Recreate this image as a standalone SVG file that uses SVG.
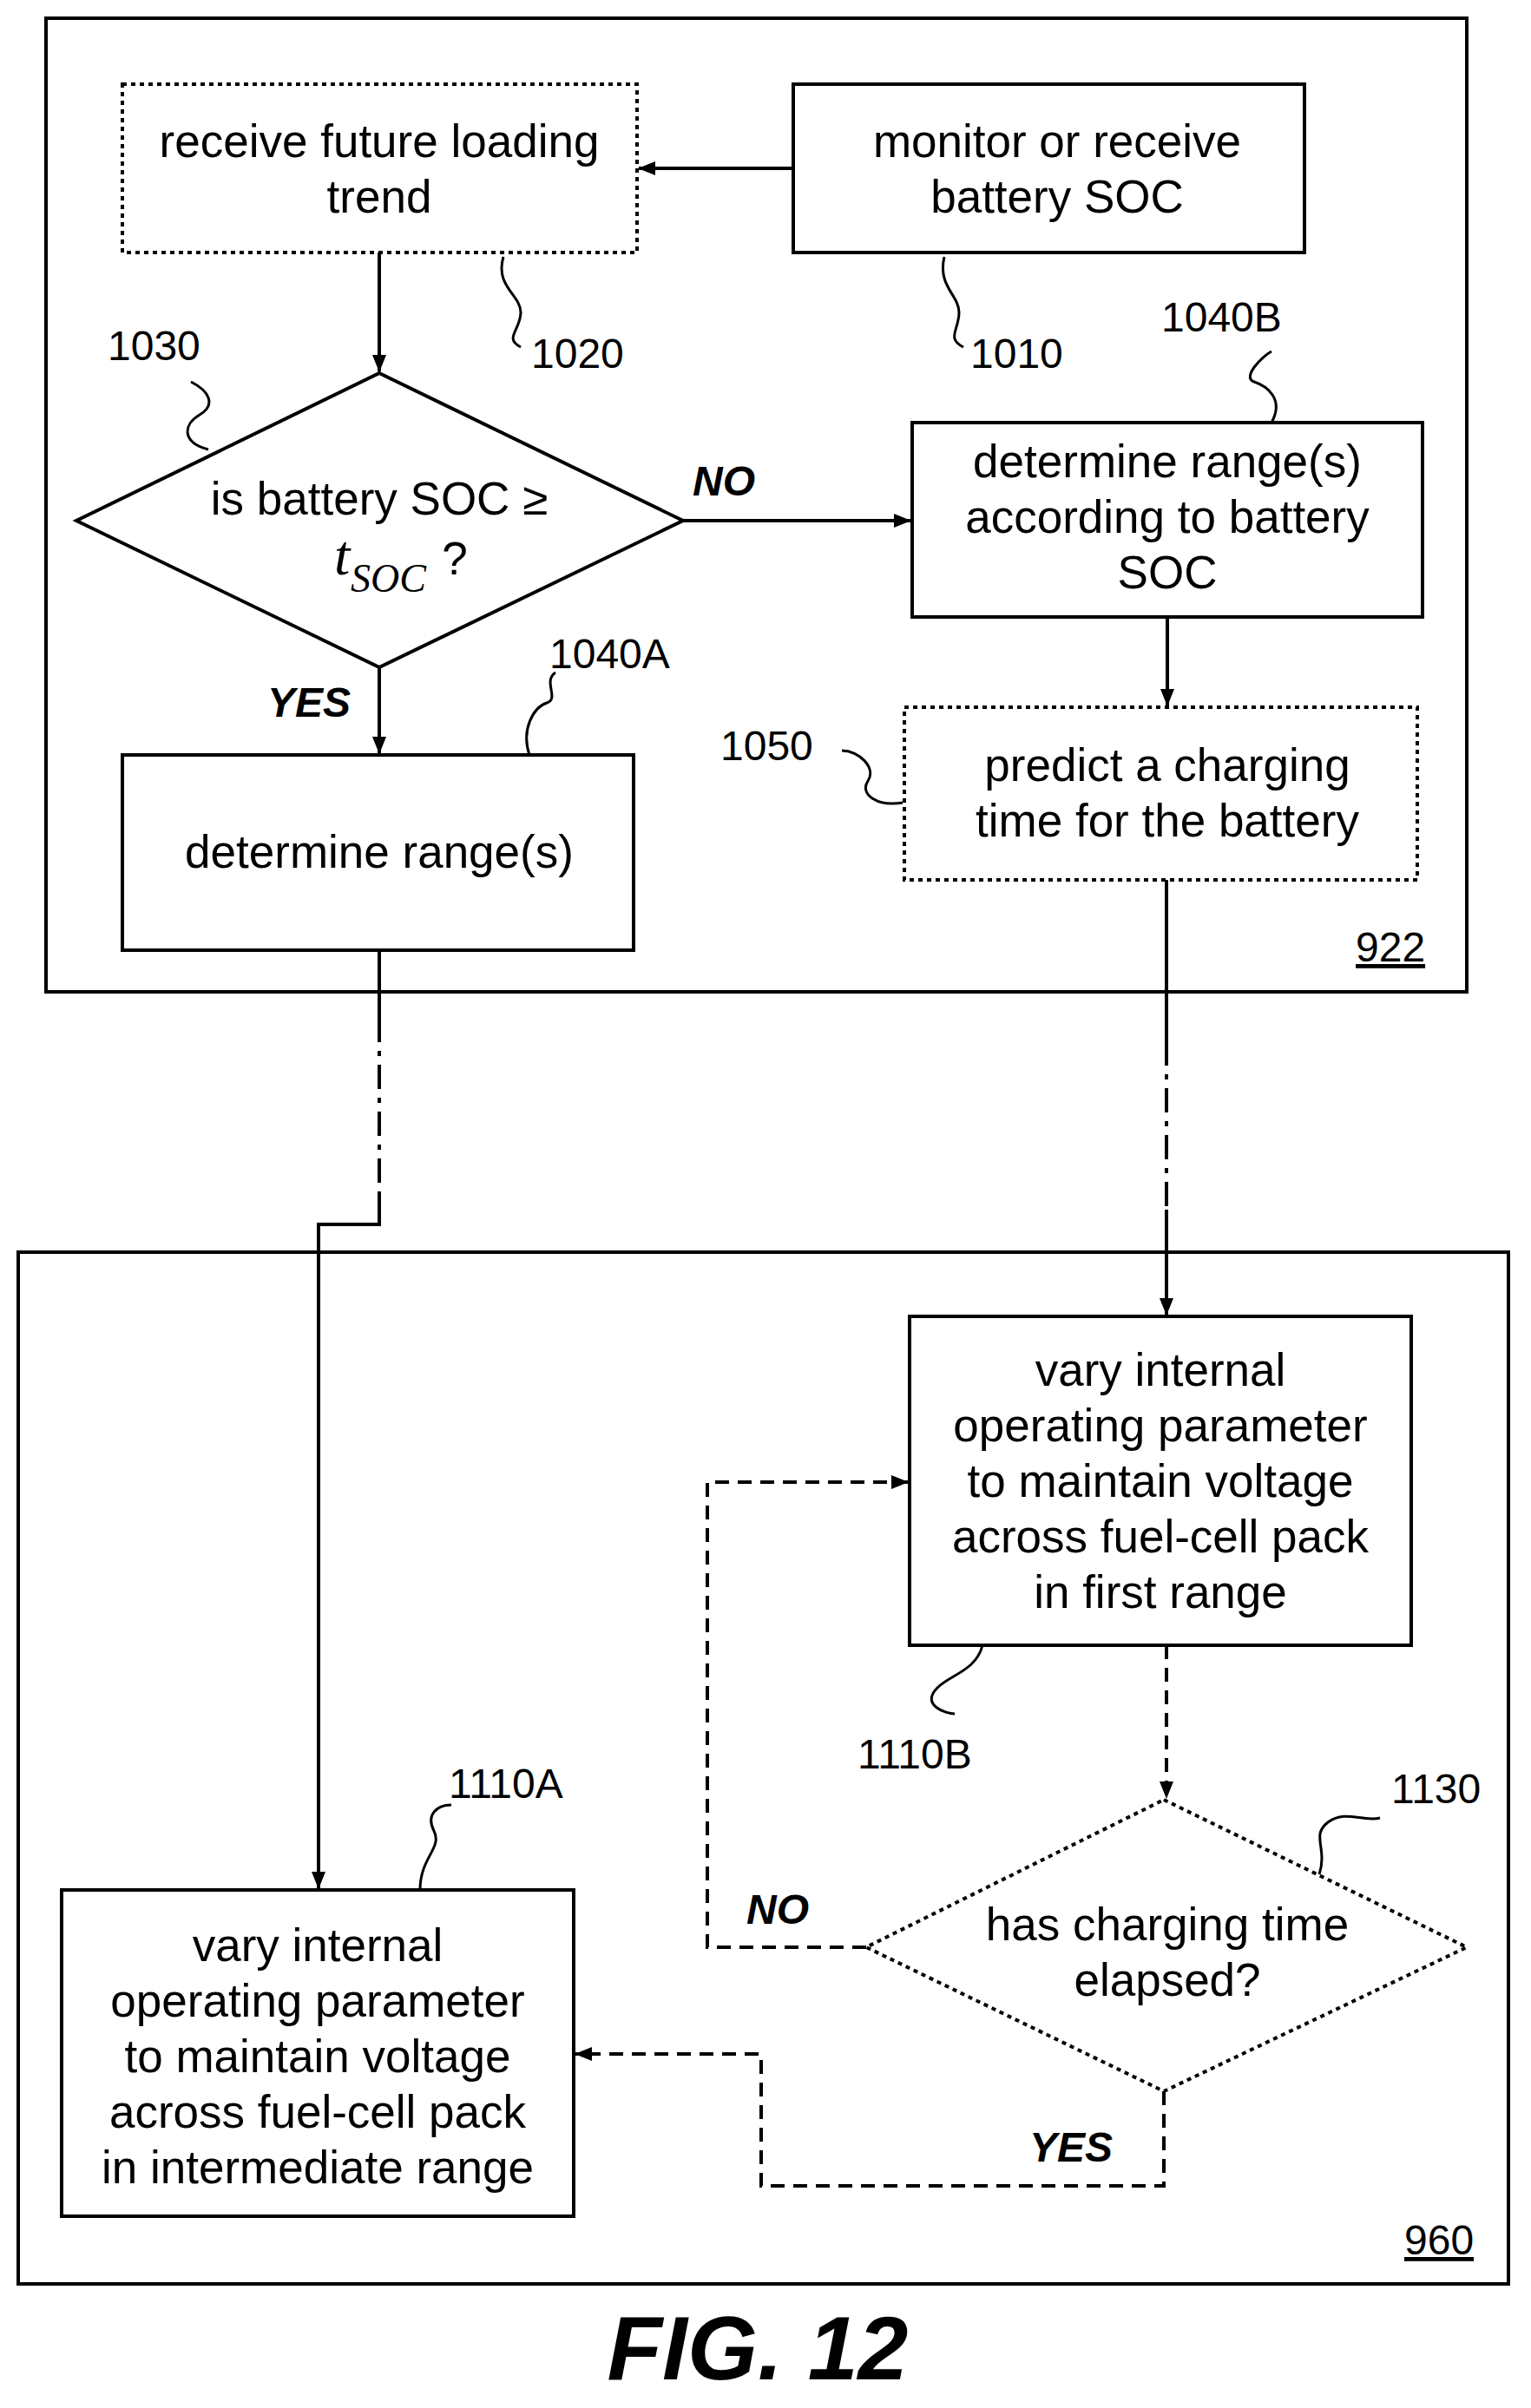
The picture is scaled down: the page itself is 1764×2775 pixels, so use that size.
<svg xmlns="http://www.w3.org/2000/svg" width="1764" height="2775" viewBox="0 0 1764 2775">
<defs>
<style>
.f{fill:#fff;stroke:#000;stroke-width:4}
.d{fill:#fff;stroke:#000;stroke-width:4;stroke-dasharray:5 5}
.t{font-family:"Liberation Sans",Arial,sans-serif;font-size:53px;text-anchor:middle;fill:#000}
.r{font-family:"Liberation Sans",Arial,sans-serif;font-size:48px;fill:#000}
.b{font-family:"Liberation Sans",Arial,sans-serif;font-size:48px;font-weight:bold;font-style:italic;fill:#000}
.c{fill:none;stroke:#000;stroke-width:4}
.dash{fill:none;stroke:#000;stroke-width:4;stroke-dasharray:16 10}
.dd{fill:none;stroke:#000;stroke-width:4;stroke-dasharray:28 10 6 10}
.s{fill:none;stroke:#000;stroke-width:3}
</style>
<marker id="a" markerWidth="20" markerHeight="16" refX="19" refY="8" orient="auto" markerUnits="userSpaceOnUse" viewBox="0 0 20 16"><path d="M0,0L20,8L0,16z"/></marker>
</defs>
<rect x="53" y="21" width="1637" height="1122" fill="none" stroke="#000" stroke-width="4"/>
<rect x="21" y="1443" width="1717" height="1189" fill="none" stroke="#000" stroke-width="4"/>
<text class="r" x="1562" y="1108" text-decoration="underline">922</text>
<text class="r" x="1618" y="2598" text-decoration="underline">960</text>
<g id="connectors">
<path class="c" d="M914,194H736" marker-end="url(#a)"/>
<path class="c" d="M437,291V428" marker-end="url(#a)"/>
<path class="c" d="M787,600H1049" marker-end="url(#a)"/>
<path class="c" d="M437,769V868" marker-end="url(#a)"/>
<path class="c" d="M1345,711V813" marker-end="url(#a)"/>
<path class="c" d="M437,1095V1173"/><path class="dd" d="M437,1173V1376"/><path class="c" d="M437,1376V1411H367V2176" marker-end="url(#a)"/>
<path class="c" d="M1344,1014V1200"/><path class="dd" d="M1344,1200V1394"/><path class="c" d="M1344,1394V1515" marker-end="url(#a)"/>
<path class="dash" d="M1344,1896V2072" marker-end="url(#a)"/>
<path class="dash" d="M998,2244H815V1708H1046" marker-end="url(#a)"/>
<path class="dash" d="M1341,2410V2519H877V2367H663" marker-end="url(#a)"/>
<text class="b" x="798" y="571">NO</text>
<text class="b" x="308" y="826">YES</text>
<text class="b" x="860" y="2217">NO</text>
<text class="b" x="1186" y="2491">YES</text>
</g>
<g id="n1020"><rect class="d" x="141" y="97" width="593" height="194"/><text class="t" x="437" y="181">receive future loading</text><text class="t" x="437" y="245">trend</text>
<path class="s" d="M580,296C570,330 600,340 600,360C600,380 580,390 600,400"/><text class="r" x="612" y="424">1020</text></g>
<g id="n1010"><rect class="f" x="914" y="97" width="589" height="194"/><text class="t" x="1218" y="181">monitor or receive</text><text class="t" x="1218" y="245">battery SOC</text>
<path class="s" d="M1088,296C1080,330 1105,340 1105,360C1105,380 1090,390 1110,400"/><text class="r" x="1118" y="424">1010</text></g>
<g id="n1030"><polygon class="f" points="437,430 787,600 437,769 88,600"/><text class="t" x="437" y="593">is battery SOC ≥</text>
<text x="385" y="662" font-family="Liberation Serif,serif" font-size="66" font-style="italic">t</text><text x="404" y="682" font-family="Liberation Serif,serif" font-size="46" font-style="italic">SOC</text><text class="t" x="524" y="662">?</text>
<path class="s" d="M240,518C210,510 210,490 230,478C250,466 240,450 220,440"/><text class="r" x="124" y="415">1030</text></g>
<g id="n1040B"><rect class="f" x="1051" y="487" width="588" height="224"/><text class="t" x="1345" y="550">determine range(s)</text><text class="t" x="1345" y="614">according to battery</text><text class="t" x="1345" y="678">SOC</text>
<path class="s" d="M1465,487C1480,460 1460,445 1445,440C1430,435 1455,410 1465,405"/><text class="r" x="1338" y="382">1040B</text></g>
<g id="n1040A"><rect class="f" x="141" y="870" width="589" height="225"/><text class="t" x="437" y="1000">determine range(s)</text>
<path class="s" d="M610,870C600,840 615,815 630,810C645,805 625,785 640,775"/><text class="r" x="633" y="770">1040A</text></g>
<g id="n1050"><rect class="d" x="1042" y="815" width="591" height="199"/><text class="t" x="1345" y="900">predict a charging</text><text class="t" x="1345" y="964">time for the battery</text>
<path class="s" d="M1040,925C1010,930 990,915 1000,900C1010,885 990,865 970,865"/><text class="r" x="830" y="876">1050</text></g>
<g id="n1110B"><rect class="f" x="1048" y="1517" width="578" height="379"/>
<text class="t" x="1337" y="1597">vary internal</text><text class="t" x="1337" y="1661">operating parameter</text><text class="t" x="1337" y="1725">to maintain voltage</text><text class="t" x="1337" y="1789">across fuel-cell pack</text><text class="t" x="1337" y="1853">in first range</text>
<path class="s" d="M1132,1896C1125,1925 1095,1930 1080,1945C1060,1965 1090,1975 1100,1975"/><text class="r" x="988" y="2038">1110B</text></g>
<g id="n1130"><polygon points="1341,2074 1690,2244 1341,2410 998,2244" fill="#fff" stroke="#000" stroke-width="4" stroke-dasharray="5 5"/>
<text class="t" x="1345" y="2236">has charging time</text><text class="t" x="1345" y="2300">elapsed?</text>
<path class="s" d="M1520,2160C1530,2130 1510,2115 1530,2100C1550,2085 1570,2100 1590,2095"/><text class="r" x="1603" y="2078">1130</text></g>
<g id="n1110A"><rect class="f" x="71" y="2178" width="590" height="376"/>
<text class="t" x="366" y="2260">vary internal</text><text class="t" x="366" y="2324">operating parameter</text><text class="t" x="366" y="2388">to maintain voltage</text><text class="t" x="366" y="2452">across fuel-cell pack</text><text class="t" x="366" y="2516">in intermediate range</text>
<path class="s" d="M484,2178C484,2140 510,2130 500,2110C490,2090 505,2080 520,2080"/><text class="r" x="517" y="2072">1110A</text></g>
<text x="873" y="2742" text-anchor="middle" font-family="Liberation Sans,Arial,sans-serif" font-size="104" font-style="italic" font-weight="bold">FIG. 12</text>
</svg>
